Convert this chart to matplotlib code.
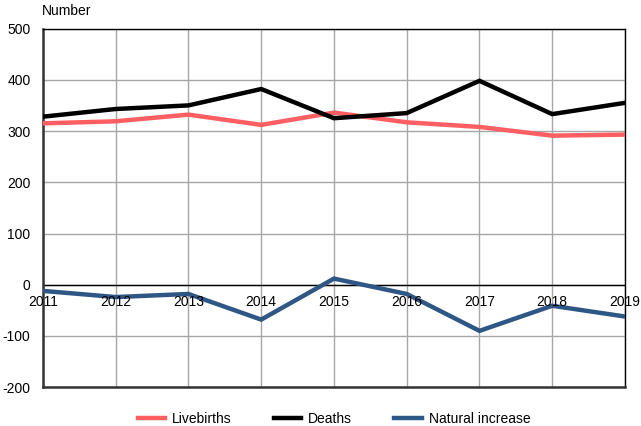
import numpy as np
import matplotlib.pyplot as plt

plt.rcParams['font.family'] = ['Liberation Sans', 'DejaVu Sans']
plt.rcParams['axes.unicode_minus'] = False

years = [2011, 2012, 2013, 2014, 2015, 2016, 2017, 2018, 2019]
livebirths = [315, 319, 332, 312, 336, 317, 308, 291, 293]
deaths = [328, 343, 350, 382, 325, 335, 398, 333, 355]
natural_increase = [-12, -24, -18, -68, 12, -18, -90, -41, -62]

fig = plt.figure(figsize=(6.41, 4.26), dpi=100)
ax = fig.add_axes([0.067, 0.091, 0.908, 0.842])

ax.plot(years, livebirths, color='#ff5f62', lw=3.2, label='Livebirths', solid_joinstyle='miter', zorder=3)
ax.plot(years, deaths, color='black', lw=3.2, label='Deaths', solid_joinstyle='miter', zorder=3)
ax.plot(years, natural_increase, color='#2f5785', lw=3.2, label='Natural increase', solid_joinstyle='miter', zorder=3)

ax.set_xlim(2011, 2019)
ax.set_ylim(-200, 500)
ax.set_yticks(range(-200, 501, 100))
ax.set_xticks(years)
ax.tick_params(axis='x', length=0, labelbottom=False)
ax.tick_params(axis='y', length=0, pad=9, labelsize=10)
ax.grid(True, color='#a6a6a6', lw=1)
ax.set_axisbelow(True)
ax.axhline(0, color='black', lw=1, zorder=2)

for s in ['top', 'right']:
    ax.spines[s].set_color('black')
    ax.spines[s].set_linewidth(1)
for s in ['left', 'bottom']:
    ax.spines[s].set_color('#333333')
    ax.spines[s].set_linewidth(1.8)

# year labels sit just under the zero line
for yr in years:
    ax.annotate(str(yr), (yr, 0), xytext=(0, -7.5), textcoords='offset points',
                ha='center', va='top', fontsize=10, zorder=4)

fig.text(0.066, 0.975, 'Number', ha='left', va='center', fontsize=10)

ax.legend(loc='center', bbox_to_anchor=(0.5, -0.088), ncol=3, frameon=False,
          fontsize=10, handlelength=2.0, columnspacing=3.0, handletextpad=0.5)

plt.savefig('out.png', dpi=100)
